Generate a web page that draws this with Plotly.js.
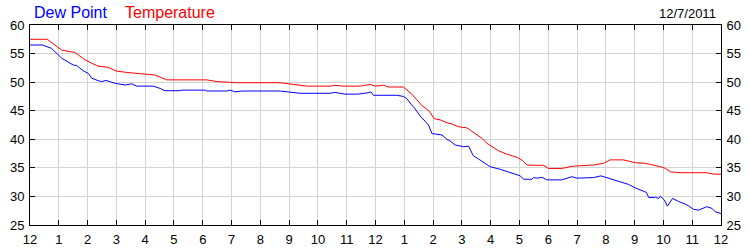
<!DOCTYPE html>
<html>
<head>
<meta charset="utf-8">
<script src="https://cdn.plot.ly/plotly-3.0.1.min.js"></script>
<style>html,body{margin:0;padding:0;background:#fff;}#chart{width:750px;height:250px;}</style>
</head>
<body>
<div id="chart"></div>
<script>
// Hours since midnight (0..24) and readings
var tempHours = [0.00,0.60,1.10,1.56,1.91,2.14,2.36,2.71,2.99,3.36,3.93,4.34,4.75,6.14,6.49,7.18,8.69,9.21,9.61,10.42,10.60,10.88,11.47,11.81,11.99,12.28,12.45,12.97,13.26,13.44,13.61,13.78,13.90,14.04,14.25,14.48,14.65,14.88,15.17,15.29,15.52,15.69,15.87,16.04,16.27,16.56,16.91,17.08,17.26,17.55,17.84,18.01,18.47,18.76,18.88,19.57,19.92,20.15,20.61,21.02,21.37,21.89,22.07,22.24,22.58,23.51,23.74,24.00];
var temperature = [57.5,57.5,55.6,55.2,53.9,53.3,52.8,52.6,51.95,51.7,51.4,51.25,50.4,50.4,50.1,49.9,49.9,49.5,49.3,49.3,49.45,49.3,49.3,49.6,49.3,49.45,49.15,49.15,47.9,46.9,45.9,45.3,44.7,43.6,43.4,42.9,42.7,42.2,42.0,41.6,40.75,40.2,39.3,38.8,38.0,37.4,36.85,36.4,35.5,35.45,35.45,34.9,34.9,35.2,35.3,35.5,35.8,36.4,36.4,35.9,35.8,35.2,34.9,34.3,34.15,34.15,33.9,33.9];

var dewHours = [0.00,0.44,0.75,0.93,1.10,1.33,1.50,1.62,1.85,2.03,2.14,2.37,2.49,2.64,2.95,3.30,3.53,3.71,4.28,4.52,4.69,5.21,5.27,6.08,6.14,6.83,6.95,7.12,7.36,8.69,9.38,10.42,10.60,10.94,11.40,11.75,11.84,11.93,12.74,12.97,13.09,13.26,13.38,13.55,13.67,13.84,13.96,14.31,14.48,14.59,14.77,15.06,15.23,15.40,15.58,15.81,15.98,16.33,16.62,16.91,17.03,17.14,17.43,17.49,17.61,17.78,17.95,18.47,18.82,19.00,19.57,19.83,20.09,20.44,20.79,21.02,21.26,21.41,21.49,21.72,21.83,21.89,22.03,22.14,22.32,22.53,22.79,23.05,23.22,23.51,23.69,23.80,24.00];
var dewPoint = [56.5,56.5,55.9,55.0,54.2,53.5,53.0,52.9,52.0,51.5,50.7,50.25,50.1,50.3,49.8,49.5,49.7,49.3,49.3,48.9,48.5,48.5,48.6,48.6,48.45,48.45,48.6,48.3,48.45,48.45,48.05,48.05,48.2,47.9,47.9,48.15,48.3,47.7,47.7,47.5,47.1,46.0,45.3,44.1,43.5,42.5,41.0,40.75,40.0,39.7,39.0,38.7,38.8,37.1,36.55,35.8,35.2,34.75,34.3,33.75,33.6,33.0,33.0,33.3,33.2,33.35,32.9,32.9,33.45,33.2,33.3,33.6,33.2,32.75,32.1,31.5,30.95,30.7,29.8,29.85,29.65,30.05,29.4,28.3,29.65,29.1,28.6,27.75,27.6,28.2,27.9,27.3,27.0];

var xTickVals = [0,1,2,3,4,5,6,7,8,9,10,11,12,13,14,15,16,17,18,19,20,21,22,23,24];
var xTickText = ['12','1','2','3','4','5','6','7','8','9','10','11','12','1','2','3','4','5','6','7','8','9','10','11','12'];
var yTickVals = [25,30,35,40,45,50,55,60];

var titleDew = 'Dew Point';
var titleTemp = 'Temperature';
var dateText = '12/7/2011';

var font = 'Liberation Sans, Arial, sans-serif';

var traces = [
  {x: dewHours, y: dewPoint, type: 'scatter', mode: 'lines', line: {color: '#0000ff', width: 1}, hoverinfo: 'none'},
  {x: tempHours, y: temperature, type: 'scatter', mode: 'lines', line: {color: '#ff0000', width: 1}, hoverinfo: 'none'}
];

var axisCommon = {
  showline: true, linecolor: '#000', linewidth: 1,
  ticks: 'inside', ticklen: 5, tickcolor: '#000', tickwidth: 1,
  showgrid: true, gridcolor: '#d3d3d3', gridwidth: 1,
  zeroline: false, fixedrange: true,
  tickfont: {family: font, size: 13, color: '#000'}
};

var layout = {
  width: 750, height: 250,
  margin: {l: 30, r: 29, t: 25, b: 25, pad: 0},
  paper_bgcolor: '#fff', plot_bgcolor: '#fff',
  showlegend: false,
  xaxis: Object.assign({}, axisCommon, {
    range: [0, 24], tickmode: 'array', tickvals: xTickVals, ticktext: xTickText,
    mirror: 'ticks', ticklabelstandoff: 2
  }),
  yaxis: Object.assign({}, axisCommon, {
    range: [25, 60], tickmode: 'array', tickvals: yTickVals,
    mirror: 'ticks', ticklabelstandoff: 2
  }),
  yaxis2: Object.assign({}, axisCommon, {
    range: [25, 60], tickmode: 'array', tickvals: yTickVals,
    overlaying: 'y', side: 'right', showgrid: false, ticklabelstandoff: 2
  }),
  annotations: [
    {text: titleDew, xref: 'paper', yref: 'paper', x: 0.003, y: 1, xanchor: 'left', yanchor: 'bottom', yshift: 2, showarrow: false, font: {family: font, size: 16, color: '#0000ff'}},
    {text: titleTemp, xref: 'paper', yref: 'paper', x: 0.135, y: 1, xanchor: 'left', yanchor: 'bottom', yshift: 2, showarrow: false, font: {family: font, size: 16, color: '#ff0000'}},
    {text: dateText, xref: 'paper', yref: 'paper', x: 0.995, y: 1, xanchor: 'right', yanchor: 'bottom', yshift: 2, showarrow: false, font: {family: font, size: 13, color: '#000'}}
  ]
};

traces.push({x: [0], y: [25], yaxis: 'y2', type: 'scatter', mode: 'markers', marker: {opacity: 0}, hoverinfo: 'none', showlegend: false});

Plotly.newPlot('chart', traces, layout, {staticPlot: true, displayModeBar: false});
</script>
</body>
</html>
